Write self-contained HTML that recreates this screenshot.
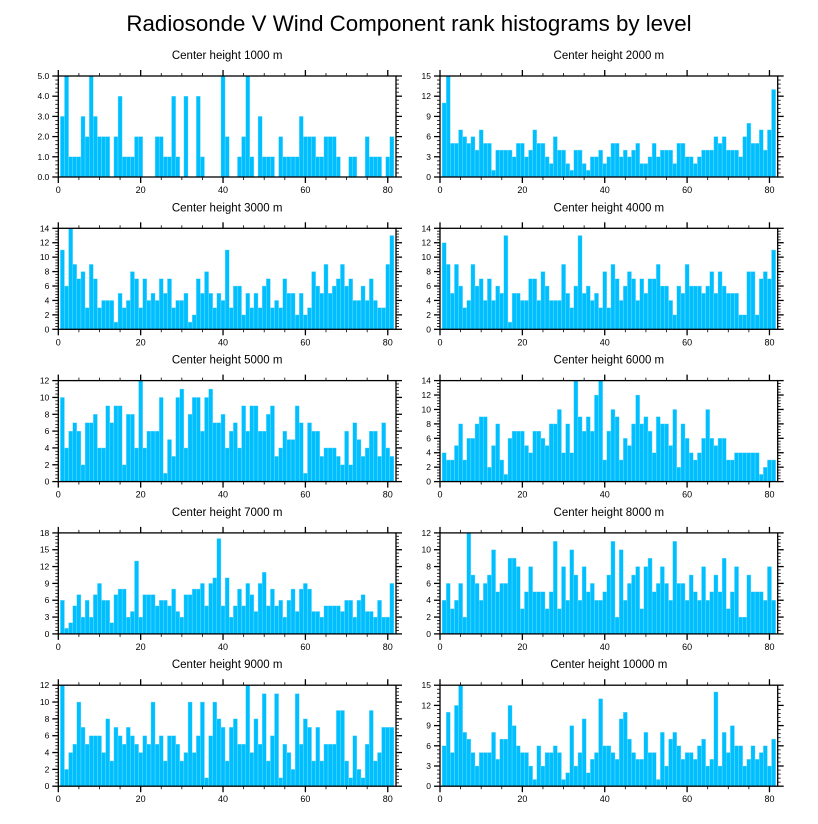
<!DOCTYPE html>
<html><head><meta charset="utf-8">
<style>
html,body{margin:0;padding:0;background:#fff;}
svg{display:block;font-family:"Liberation Sans",Arial,sans-serif;}
</style></head>
<body>
<svg id="chart" width="818" height="824" viewBox="0 0 818 824" xmlns="http://www.w3.org/2000/svg">
<text x="409" y="31" text-anchor="middle" font-size="22.3" fill="#000">Radiosonde V Wind Component rank histograms by level</text>
</svg>
<script>
const levels = ["1000","2000","3000","4000","5000","6000","7000","8000","9000","10000"];
const yMax = [5,15,14,14,12,14,18,12,12,15];
const yStep = [1,3,2,2,2,2,3,2,2,3];
const xTicks = [0,20,40,60,80];
const h1000 = [3,5,1,1,1,3,2,5,3,2,2,2,0,2,4,1,1,1,2,2,0,0,0,2,2,1,1,4,1,0,4,0,0,4,1,0,0,0,0,5,2,0,0,1,2,5,1,0,3,1,1,1,0,2,1,1,1,1,3,2,2,2,1,1,2,2,2,1,0,0,1,1,0,0,2,1,1,1,0,1,2];
const h2000 = [11,15,5,5,7,6,5,6,4,7,5,5,1,4,4,4,4,3,5,5,3,4,7,5,5,3,2,6,4,4,2,1,4,4,2,1,3,3,4,2,3,5,5,3,4,3,4,5,2,2,3,5,3,4,4,4,2,5,5,3,3,2,3,4,4,4,6,5,6,4,4,4,3,6,8,5,5,7,4,7,13];
const h3000 = [11,6,14,9,7,8,3,9,7,3,4,4,4,1,5,3,4,8,7,3,7,4,5,4,7,5,7,3,4,4,5,1,2,7,5,8,5,3,5,4,11,3,6,6,2,5,3,5,3,6,7,3,4,3,7,5,5,2,5,2,3,8,6,5,9,5,6,7,9,6,7,4,4,6,4,7,4,3,3,9,13];
const h4000 = [12,9,5,9,6,3,4,9,6,7,4,7,4,6,5,13,1,5,5,4,4,7,7,4,8,6,4,4,4,9,5,3,6,13,5,6,4,5,3,8,3,9,7,4,6,8,7,4,7,5,7,7,9,6,6,4,2,6,5,9,6,6,6,5,6,8,5,8,6,5,5,5,2,2,8,8,2,7,8,7,11];
const h5000 = [10,4,6,7,6,2,7,7,8,4,4,9,7,9,9,2,8,8,4,12,4,6,6,6,10,1,5,3,10,11,4,8,10,10,6,10,11,7,7,8,4,6,7,4,9,6,9,9,6,6,8,9,3,4,6,5,5,9,7,1,7,6,6,3,4,4,4,3,2,6,2,7,5,3,4,6,6,3,7,4,3];
const h6000 = [4,3,3,5,8,3,6,6,8,9,9,2,5,8,3,1,6,7,7,7,5,4,7,7,6,5,8,8,10,4,8,4,14,9,7,9,7,12,14,3,7,10,9,3,6,5,8,12,8,9,7,4,9,8,8,5,10,2,8,6,4,3,4,6,10,6,5,6,6,3,3,4,4,4,4,4,4,1,2,3,3];
const h7000 = [6,1,2,5,7,3,6,3,7,9,6,6,2,7,8,8,3,4,13,3,7,7,7,5,6,6,5,8,4,3,7,7,8,8,9,5,9,10,17,5,10,3,5,8,5,9,7,4,9,11,5,8,5,6,3,6,8,4,8,9,8,4,4,3,5,5,5,5,4,6,6,3,6,7,4,4,3,6,3,3,9];
const h8000 = [4,6,3,4,6,2,12,7,6,4,6,7,10,5,6,6,9,9,8,3,5,8,5,5,5,3,5,11,3,8,4,10,7,4,8,5,6,4,4,5,7,11,2,10,4,6,7,8,3,8,9,5,6,8,6,4,11,6,6,4,7,5,4,8,4,5,7,5,9,3,5,8,2,2,7,5,5,5,4,8,4];
const h9000 = [12,2,4,5,10,7,5,6,6,6,4,8,3,7,6,5,7,6,5,4,6,5,10,5,6,3,6,6,5,3,4,10,4,6,10,1,6,10,8,7,3,7,8,5,5,12,4,8,5,11,3,6,11,1,5,4,2,11,5,8,7,3,7,3,5,5,5,9,9,3,1,6,2,1,5,9,3,4,7,7,7];
const h10000 = [6,11,5,12,15,8,7,5,3,5,5,5,8,4,7,7,12,9,6,5,5,3,1,6,3,5,5,6,5,1,2,9,3,5,10,2,4,5,13,6,6,5,4,10,11,7,5,4,4,8,5,5,1,8,3,7,8,6,4,5,5,4,6,7,3,4,14,3,8,5,9,6,6,3,4,6,4,5,6,3,7];
const series = [h1000,h2000,h3000,h4000,h5000,h6000,h7000,h8000,h9000,h10000];

const NS = "http://www.w3.org/2000/svg";
const svg = document.getElementById("chart");
function mk(tag, attrs, parent){
  const e = document.createElementNS(NS, tag);
  for (const k in attrs) e.setAttribute(k, attrs[k]);
  (parent||svg).appendChild(e);
  return e;
}
const X0 = 0, X1 = 82;
const colLeft = [58.3, 440];
const panelW = 337.7;
const rowTop = [76, 228.3, 380.6, 532.9, 685.2];
const panelH = 101;

series.forEach((vals, p) => {
  const px = colLeft[p % 2], py = rowTop[Math.floor(p / 2)];
  const xs = v => px + (v - X0) / (X1 - X0) * panelW;
  const ys = v => py + panelH - v / yMax[p] * panelH;
  const g = mk("g", {});
  
  
  const t = mk("text", {x: px + panelW/2, y: py - 17, "text-anchor":"middle", "font-size":"11.5", fill:"#000"}, g);
  
  
  t.textContent = "Center height " + levels[p] + " m";
  vals.forEach((v, i) => {
    if (v <= 0) return;
    const r = mk("rect", {x: xs(i + 0.5), y: ys(v), width: xs(i + 1.5) - xs(i + 0.5), height: ys(0) - ys(v),
      fill:"#00bfff", stroke:"#8fe0ff", "stroke-width":"0.35"}, g);
    
    
  });
  const f = mk("rect", {x: px, y: py, width: panelW, height: panelH, fill:"none", stroke:"#000", "stroke-width":"1.3"}, g);
  
  
  for (let v = 0; v <= 80; v += 5) {
    const major = v % 20 === 0;
    const L = major ? 6 : 3;
    const x = xs(v);
    mk("line", {x1:x, x2:x, y1:py, y2:py - L, stroke:"#000", "stroke-width": major?1.3:0.8}, g);
    mk("line", {x1:x, x2:x, y1:py+panelH, y2:py+panelH + L, stroke:"#000", "stroke-width": major?1.3:0.8}, g);
  }
  xTicks.forEach(v => {
    const tx = mk("text", {x: xs(v), y: py + panelH + 16, "text-anchor":"middle", "font-size":"9", fill:"#000"}, g);
    
    
    tx.textContent = v;
  });
  const minor = yStep[p] / 5;
  for (let k = 0; k * minor <= yMax[p] + 1e-9; k++) {
    const v = k * minor, major = k % 5 === 0;
    const L = major ? 6 : 3, y = ys(v);
    mk("line", {x1:px, x2:px - L, y1:y, y2:y, stroke:"#000", "stroke-width": major?1.3:0.8}, g);
    mk("line", {x1:px+panelW, x2:px+panelW + L, y1:y, y2:y, stroke:"#000", "stroke-width": major?1.3:0.8}, g);
  }
  for (let v = 0; v <= yMax[p] + 1e-9; v += yStep[p]) {
    const ty = mk("text", {x: px - 9, y: ys(v) + 3, "text-anchor":"end", "font-size":"8.5", fill:"#000"}, g);
    
    
    ty.textContent = p === 0 ? v.toFixed(1) : String(v);
  }
});
</script>
</body></html>
